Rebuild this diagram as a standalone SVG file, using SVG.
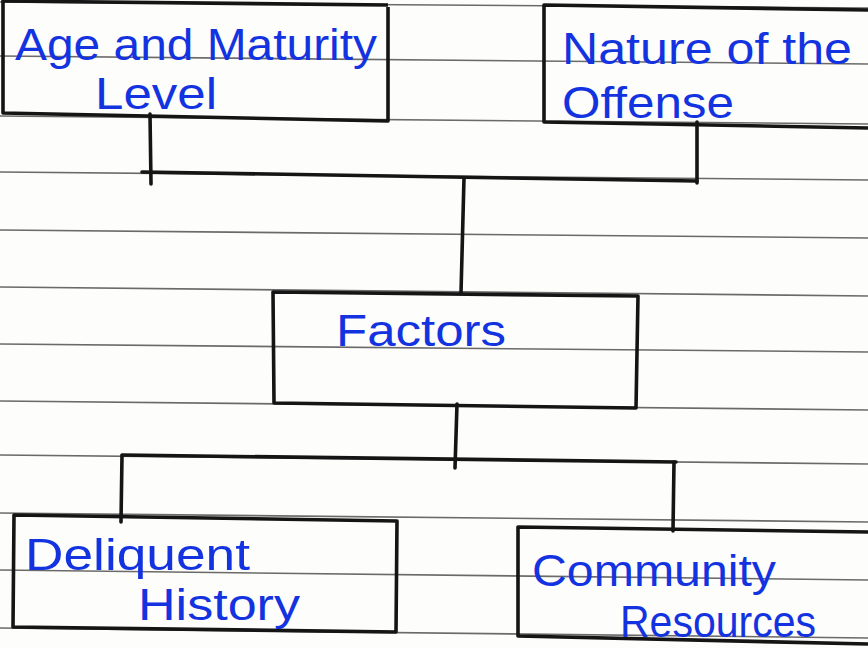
<svg xmlns="http://www.w3.org/2000/svg" width="868" height="648" viewBox="0 0 868 648">
<style>
.rule{stroke:#6a6a6a;stroke-width:1.6;fill:none}
.box{fill:none;stroke:#151515;stroke-width:3.6;stroke-linejoin:round}
.con{fill:none;stroke:#151515;stroke-width:3.6;stroke-linecap:round}
.t{font-family:"Liberation Sans","DejaVu Sans",sans-serif;fill:#1433e0;font-size:44px}
</style>
<rect width="868" height="648" fill="#fdfdfb"/>
<g id="paper">
<path class="rule" d="M0 2 L868 8"/>
<path class="rule" d="M0 56 L868 64"/>
<path class="rule" d="M0 116 L868 124"/>
<path class="rule" d="M0 172 L868 180"/>
<path class="rule" d="M0 230 L868 238"/>
<path class="rule" d="M0 287 L868 296"/>
<path class="rule" d="M0 344 L868 352"/>
<path class="rule" d="M0 401 L868 410"/>
<path class="rule" d="M0 455 L868 464"/>
<path class="rule" d="M0 513 L868 522"/>
<path class="rule" d="M0 570 L868 580"/>
<path class="rule" d="M0 628 L868 638"/>
</g>
<g id="connectors">
<path class="con" d="M150 114 L151 184"/>
<path class="con" d="M142 172 L697 181"/>
<path class="con" d="M697 122 L697 183"/>
<path class="con" d="M464 178 L461 293"/>
<path class="con" d="M457 404 L455 468"/>
<path class="con" d="M122 455 L676 462"/>
<path class="con" d="M122 456 L121 522"/>
<path class="con" d="M674 462 L673 531"/>
</g>
<g id="age">
<path class="box" d="M3 0 L3 113 L388 121 L388 7"/>
<path class="box" d="M3 1 L388 5"/>
<text class="t" x="15" y="60" textLength="362" lengthAdjust="spacingAndGlyphs">Age and Maturity</text>
<text class="t" x="95" y="109" textLength="122" lengthAdjust="spacingAndGlyphs">Level</text>
</g>
<g id="nature">
<path class="box" d="M868 10 L544 5 L544 122 L868 128"/>
<text class="t" x="562" y="64" textLength="290" lengthAdjust="spacingAndGlyphs">Nature of the</text>
<text class="t" x="562" y="118" textLength="172" lengthAdjust="spacingAndGlyphs">Offense</text>
</g>
<g id="factors">
<path class="box" d="M273 292 L638 296 L636 408 L274 403 Z"/>
<text class="t" x="336" y="346" textLength="170" lengthAdjust="spacingAndGlyphs">Factors</text>
</g>
<g id="delinquent">
<path class="box" d="M14 515 L397 521 L396 632 L13 627 Z"/>
<text class="t" x="25" y="570" textLength="225" lengthAdjust="spacingAndGlyphs">Deliquent</text>
<text class="t" x="138" y="620" textLength="162" lengthAdjust="spacingAndGlyphs">History</text>
</g>
<g id="community">
<path class="box" d="M868 532 L518 527 L518 636 L868 644"/>
<text class="t" x="532" y="586" textLength="244" lengthAdjust="spacingAndGlyphs">Community</text>
<text class="t" x="620" y="637" textLength="196" lengthAdjust="spacingAndGlyphs">Resources</text>
</g>
</svg>
